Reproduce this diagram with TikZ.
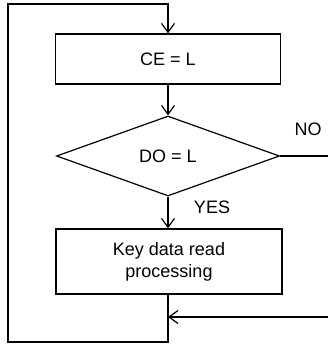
\documentclass[tikz,border=0pt]{standalone}
\usepackage{fontspec}
\setmainfont{Liberation Sans}
\usetikzlibrary{shapes.geometric,arrows.meta}
\begin{document}
\begin{tikzpicture}[x=1pt,y=-1pt,line width=1.2pt,
  every node/.style={font=\fontsize{18}{22}\selectfont},
  procbox/.style={draw,rectangle,inner sep=0pt,align=center},
  decbox/.style={draw,diamond,inner sep=0pt,aspect=2.79,minimum width=223pt,minimum height=80pt},
  flow/.style={-{Straight Barb[length=9pt,width=13pt,line width=1.2pt]}},
  lbl/.style={inner sep=0pt}]
\useasboundingbox (0,0) rectangle (328,344);
\node[procbox,minimum width=225pt,minimum height=50pt] (ce) at (168,59) {CE = L};
\node[decbox] (do) at (168,156) {DO = L};
\node[procbox,minimum width=226pt,minimum height=65pt] (key) at (169,261.5) {Key data read\\processing};
\coordinate (tl) at (8,4);
\coordinate (tj) at (168,4);
\coordinate (bl) at (8,342);
\coordinate (bj) at (168,342);
\coordinate (mj) at (168,317);
\coordinate (inr) at (328,317);
\coordinate (noend) at (328,156);
\node[lbl] (no) at (308,129) {NO};
\node[lbl] (yes) at (212,207) {YES};
\draw[flow] (mj) -- (bj) -- (bl) -- (tl) -- (tj) -- (ce.north);
\draw[flow] (ce.south) -- (do.north);
\draw[flow] (do.south) -- (key.north -| do.south);
\draw (key.south -| mj) -- (mj);
\draw[flow] (inr) -- (mj);
\draw (do.east) -- (noend);
\end{tikzpicture}
\end{document}
